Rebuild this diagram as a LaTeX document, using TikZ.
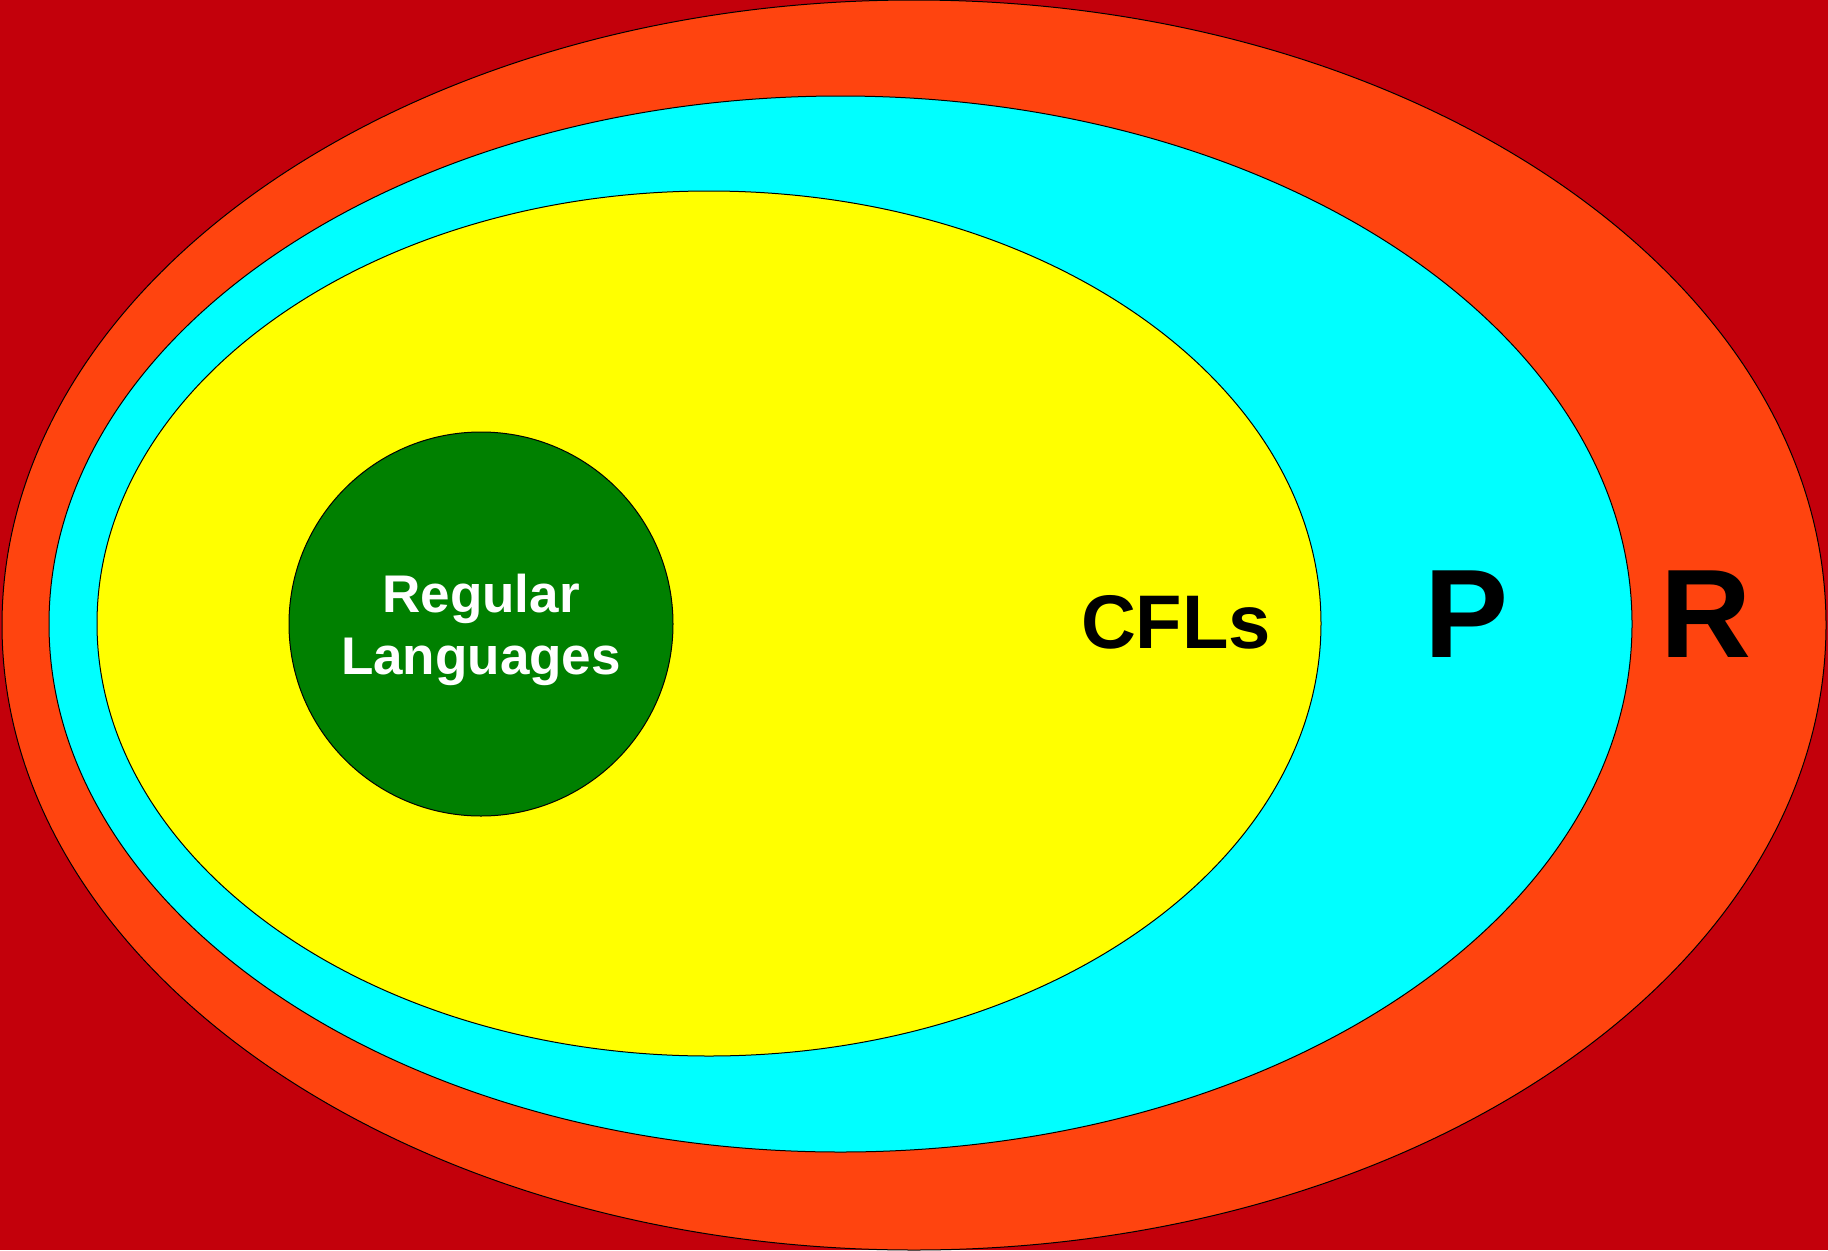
\documentclass[tikz,border=0pt]{standalone}
\usepackage{fontspec}
\setmainfont{Liberation Sans}
\definecolor{bgred}{RGB}{195,0,11}
\definecolor{setorange}{RGB}{255,68,15}
\definecolor{setcyan}{RGB}{0,255,255}
\definecolor{setyellow}{RGB}{255,255,0}
\definecolor{setgreen}{RGB}{0,128,0}
\tikzset{
  region/.style={draw=black, line width=1pt},
  biglabel/.style={font=\fontsize{126}{140}\selectfont\bfseries, text=black, inner sep=0pt, anchor=base},
}
\begin{document}
\begin{tikzpicture}[x=1pt, y=-1pt]
  % background
  \fill[bgred] (0,0) rectangle (1828,1250);
  \useasboundingbox (0,0) rectangle (1828,1250);
  % nested sets
  \draw[region, fill=setorange] (914,625) ellipse [x radius=912, y radius=625];
  \draw[region, fill=setcyan] (840.5,624) ellipse [x radius=791.5, y radius=528];
  \draw[region, fill=setyellow] (709,623.5) ellipse [x radius=612, y radius=432.5];
  \draw[region, fill=setgreen] (481,624) circle [radius=192];
  % labels
  \node (reg) [font=\fontsize{53}{62}\selectfont\bfseries, text=white, align=center, inner sep=0pt]
    at (481,630) {Regular\\Languages};
  \node (cfl) [font=\fontsize{76}{90}\selectfont\bfseries, inner sep=0pt, anchor=base] at (1176,648) {CFLs};
  \node (p) [biglabel] at (1467,657) {P};
  \node (r) [biglabel] at (1706,657) {R};
\end{tikzpicture}
\end{document}
